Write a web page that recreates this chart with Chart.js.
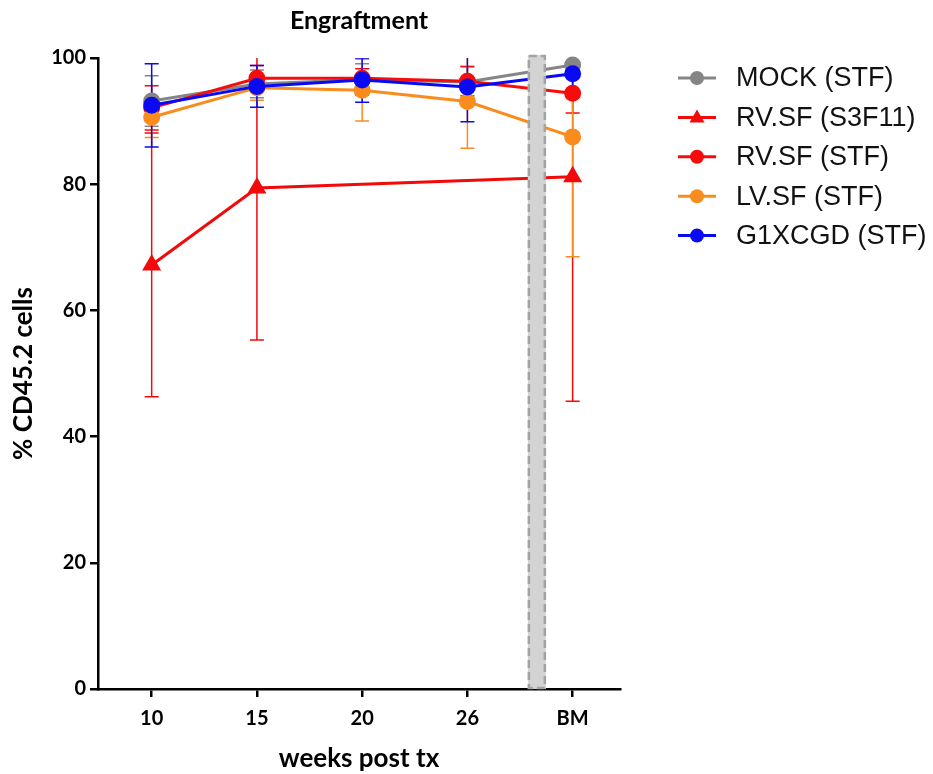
<!DOCTYPE html>
<html>
<head>
<meta charset="utf-8">
<title>Engraftment</title>
<script src="https://cdn.jsdelivr.net/npm/chart.js@4.4.0/dist/chart.umd.min.js"></script>
<style>
  html, body { margin: 0; padding: 0; background: #fff; }
</style>
</head>
<body>
<canvas id="engraftment" width="933" height="774"></canvas>
<script>
// time points (weeks post tx), BM = bone marrow at end
const weeks = ['10', '15', '20', '26', 'BM'];
const yTicks = [0, 20, 40, 60, 80, 100];

// group means
const mock = [93.2, 95.9, 96.6, 96.2, 98.9];
const rvS3f11 = [67.2, 79.4, null, null, 81.2];
const rvStf = [92.1, 96.8, 96.8, 96.3, 94.4];
const lvStf = [90.6, 95.3, 94.9, 93.1, 87.5];
const g1xcgd = [92.5, 95.5, 96.5, 95.4, 97.5];

// SD for the error bars
const mockSd = [4.0, 2.2, 2.5, 2.5, 1.5];
const rvS3f11Sd = [20.9, 24.1, null, null, 35.6];
const rvStfSd = [3.5, 2.0, 1.5, 2.3, 3.1];
const lvStfSd = [3.2, 2.0, 4.9, 7.4, 19.0];
const g1xcgdSd = [6.6, 3.3, 3.5, 5.5, 3.0];

// the axis break sits between 26 and BM
const breakAt = 3.66;

const toPoints = (vals) => vals.map((v, i) => ({ x: i, y: v }));

const makeDataset = (label, vals, sd, color, style, order) => ({
  label,
  data: toPoints(vals),
  sd,
  borderColor: color,
  backgroundColor: color,
  pointBackgroundColor: color,
  pointBorderColor: color,
  pointStyle: style,
  pointRadius: style === 'triangle' ? 8 : 7,
  pointHoverRadius: 7,
  borderWidth: 3,
  spanGaps: true,
  clip: false,
  order
});

const datasets = [
  makeDataset('MOCK (STF)', mock, mockSd, '#858585', 'circle', 4),
  makeDataset('RV.SF (S3F11)', rvS3f11, rvS3f11Sd, '#f20a0a', 'triangle', 3),
  makeDataset('RV.SF (STF)', rvStf, rvStfSd, '#f70c0c', 'circle', 2),
  makeDataset('LV.SF (STF)', lvStf, lvStfSd, '#f98c1c', 'circle', 1),
  makeDataset('G1XCGD (STF)', g1xcgd, g1xcgdSd, '#0a0af2', 'circle', 0)
];

const errorBars = {
  id: 'errorBars',
  beforeDatasetsDraw(chart) {
    const { ctx, chartArea, scales } = chart;
    ctx.save();
    ctx.beginPath();
    ctx.rect(chartArea.left, chartArea.top, chartArea.right - chartArea.left, chartArea.bottom - chartArea.top);
    ctx.clip();
    chart.data.datasets.forEach(ds => {
      ctx.strokeStyle = ds.borderColor;
      ctx.lineWidth = 1.5;
      ds.data.forEach((p, i) => {
        const sd = ds.sd[i];
        if (p.y == null || sd == null) return;
        const x = scales.x.getPixelForValue(p.x);
        const yHi = scales.y.getPixelForValue(p.y + sd);
        const yLo = scales.y.getPixelForValue(p.y - sd);
        ctx.beginPath();
        ctx.moveTo(x, yHi);
        ctx.lineTo(x, yLo);
        ctx.moveTo(x - 7, yHi);
        ctx.lineTo(x + 7, yHi);
        ctx.moveTo(x - 7, yLo);
        ctx.lineTo(x + 7, yLo);
        ctx.stroke();
      });
    });
    ctx.restore();
  }
};

const axisBreak = {
  id: 'axisBreak',
  afterDatasetsDraw(chart) {
    const { ctx, chartArea, scales } = chart;
    const x = scales.x.getPixelForValue(breakAt);
    ctx.save();
    ctx.fillStyle = '#d3d3d3';
    ctx.fillRect(x - 9, chartArea.top - 3, 18, chartArea.bottom - chartArea.top + 3);
    ctx.strokeStyle = '#a3a3a3';
    ctx.lineWidth = 2.5;
    ctx.setLineDash([8, 4]);
    ctx.strokeRect(x - 8, chartArea.top - 2, 16, chartArea.bottom - chartArea.top + 1);
    ctx.restore();
  }
};

// title centred over the plot, not the whole canvas
const plotTitle = {
  id: 'plotTitle',
  afterDraw(chart) {
    const { ctx, chartArea } = chart;
    ctx.save();
    ctx.fillStyle = '#000';
    ctx.font = 'bold 25px Lato, "Open Sans", sans-serif';
    ctx.textAlign = 'center';
    ctx.textBaseline = 'middle';
    ctx.fillText('Engraftment', (chartArea.left + chartArea.right) / 2, 21);
    ctx.restore();
  }
};

// legend with line + marker, like the original
const sideLegend = {
  id: 'sideLegend',
  afterDraw(chart) {
    const { ctx } = chart;
    const x0 = 678, top = 78, step = 39.4;
    ctx.save();
    chart.data.datasets.forEach((ds, i) => {
      const y = top + i * step;
      ctx.strokeStyle = ds.borderColor;
      ctx.fillStyle = ds.borderColor;
      ctx.lineWidth = 3;
      ctx.beginPath();
      ctx.moveTo(x0, y);
      ctx.lineTo(x0 + 38, y);
      ctx.stroke();
      const cx = x0 + 19;
      ctx.beginPath();
      if (ds.pointStyle === 'triangle') {
        ctx.moveTo(cx, y - 8);
        ctx.lineTo(cx + 7.5, y + 5);
        ctx.lineTo(cx - 7.5, y + 5);
        ctx.closePath();
      } else {
        ctx.arc(cx, y, 7, 0, Math.PI * 2);
      }
      ctx.fill();
      ctx.fillStyle = '#111';
      ctx.font = '27px "Liberation Sans", Arial, sans-serif';
      ctx.textBaseline = 'middle';
      ctx.fillText(ds.label, 736, y + 1);
    });
    ctx.restore();
  }
};

Chart.defaults.color = '#000';
Chart.defaults.font.family = 'Lato, "Open Sans", sans-serif';

new Chart(document.getElementById('engraftment'), {
  type: 'line',
  data: { datasets },
  plugins: [errorBars, axisBreak, plotTitle, sideLegend],
  options: {
    responsive: false,
    animation: false,
    layout: { padding: { left: 0, right: 313, top: 58, bottom: 0 } },
    plugins: {
      legend: { display: false },
      tooltip: { enabled: false },
      title: { display: false }
    },
    scales: {
      x: {
        type: 'linear',
        min: -0.51,
        max: 4.45,
        afterBuildTicks: (scale) => {
          scale.ticks = weeks.map((w, i) => ({ value: i }));
        },
        afterFit: (scale) => { scale.height = 85; },
        ticks: {
          callback: (value) => weeks[value],
          font: { size: 20, weight: 'bold' },
          padding: 10,
          maxRotation: 0
        },
        grid: { drawOnChartArea: false, drawTicks: true, tickLength: 8, color: '#000', lineWidth: 2.5 },
        border: { color: '#000', width: 2.5 },
        title: {
          display: true,
          text: 'weeks post tx',
          font: { size: 26, weight: 'bold' },
          padding: { top: 4, bottom: 0 }
        }
      },
      y: {
        min: 0,
        max: 100,
        afterBuildTicks: (scale) => {
          scale.ticks = yTicks.map(v => ({ value: v }));
        },
        afterFit: (scale) => { scale.width = 98; },
        ticks: {
          font: { size: 20, weight: 'bold' },
          padding: 4
        },
        grid: { drawOnChartArea: false, drawTicks: true, tickLength: 8, color: '#000', lineWidth: 2.5 },
        border: { color: '#000', width: 2.5 },
        title: {
          display: true,
          text: '% CD45.2 cells',
          font: { size: 26, weight: 'bold' },
          padding: { top: 8, bottom: 0 }
        }
      }
    }
  }
});
</script>
</body>
</html>
